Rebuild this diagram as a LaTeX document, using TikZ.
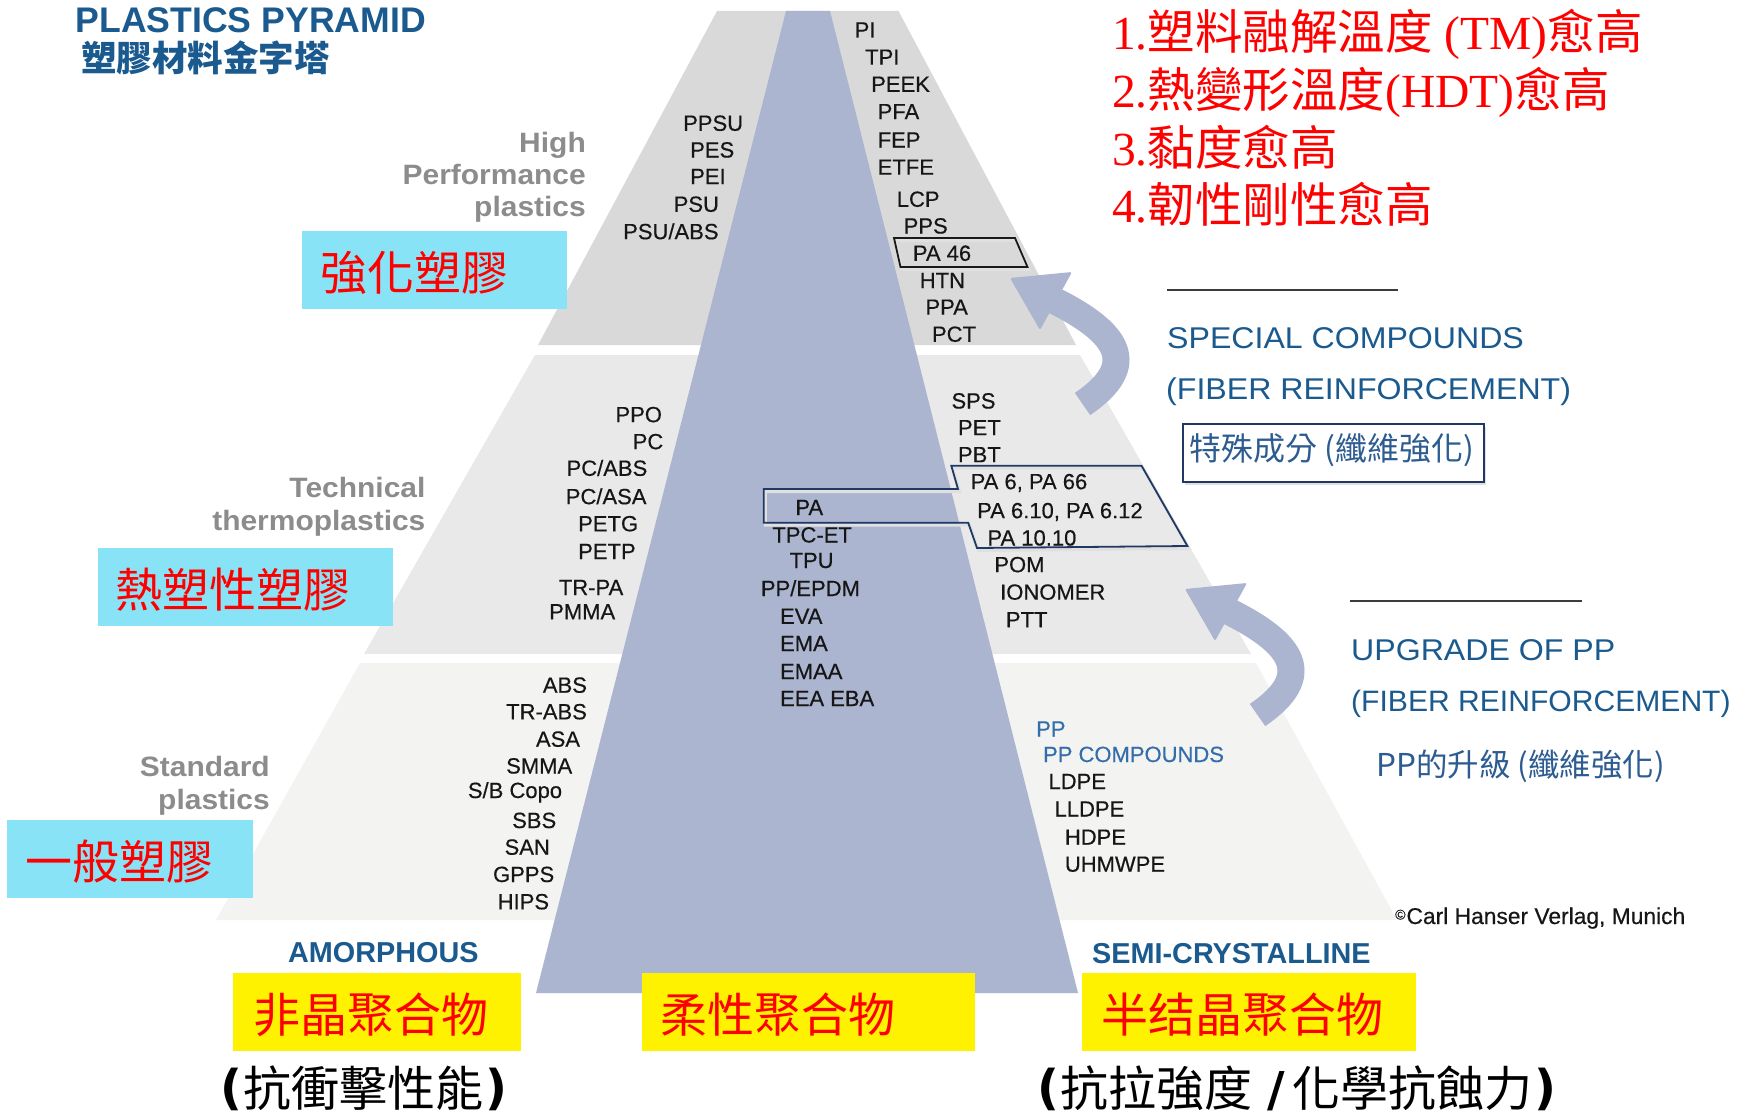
\documentclass[tikz,border=0pt]{standalone}
\usepackage{fontspec}
\setmainfont{Liberation Sans}
\newfontfamily\cjk{Noto Sans CJK TC}
\newfontfamily\serifnum{Liberation Serif}
\newfontfamily\widesans[FakeStretch=1.07]{Liberation Sans}
\newfontfamily\widesansB[FakeStretch=1.02]{Liberation Sans}
\newfontfamily\matsans[FakeBold=0.4]{Liberation Sans}
\newfontfamily\djv{DejaVu Sans}
\definecolor{bandA}{RGB}{217,217,217}
\definecolor{bandB}{RGB}{233,233,233}
\definecolor{bandC}{RGB}{243,243,241}
\definecolor{core}{RGB}{171,181,208}
\definecolor{tblue}{RGB}{26,90,142}
\definecolor{lblue}{RGB}{52,110,170}
\definecolor{cjkblue}{RGB}{45,92,145}
\definecolor{graytxt}{RGB}{140,140,140}
\definecolor{cyanbox}{RGB}{137,227,246}
\definecolor{navy}{RGB}{31,56,100}
\definecolor{mat}{RGB}{22,22,22}
\definecolor{rulegray}{RGB}{60,60,60}
\begin{document}
\begin{tikzpicture}[x=1pt,y=-1pt,
  mat/.style={font=\matsans\fontsize{22}{26}\selectfont, text=mat, inner sep=0, anchor=base west},
  matblue/.style={mat, text=lblue},
  graylbl/.style={font=\widesans\bfseries\fontsize{28}{30}\selectfont, text=graytxt, inner sep=0, anchor=base east},
  bluetxt/.style={font=\widesans\fontsize{30}{32}\selectfont, text=tblue, inner sep=0, anchor=base west},
  classlbl/.style={font=\bfseries\fontsize{28.8}{30}\selectfont, text=tblue, inner sep=0, anchor=base west},
  redlist/.style={font=\cjk\fontsize{47.5}{50}\selectfont, text=red, inner sep=0, anchor=base west},
  redcjk/.style={font=\cjk\fontsize{47}{50}\selectfont, text=red, inner sep=0, anchor=base west},
  blackcjk/.style={font=\cjk\fontsize{48}{50}\selectfont, text=black, inner sep=0, anchor=base west},
  labelbox/.style={inner sep=0, anchor=north west, draw=none},
  shaft/.style={draw=core, line width=27pt},
  rulepen/.style={draw=rulegray, line width=2pt},
  outline/.style={line width=1.8pt, line join=miter}
]
\fill[white] (0,0) rectangle (1738,1116);
\useasboundingbox (0,0) rectangle (1738,1116);

% pyramid bands
\fill[bandA] (717,11) -- (898.5,11) -- (1076,345) -- (538,345) -- cycle;
\fill[bandB] (535,355) -- (1080,355) -- (1251,654) -- (364,654) -- cycle;
\fill[bandC] (360,663) -- (1256,663) -- (1397,920) -- (216,920) -- cycle;
\fill[core] (786,11) -- (830,11) -- (1078,993) -- (536,993) -- cycle;

% arrows
\coordinate (a1s) at (1082.5,404);
\coordinate (a1e) at (1052,299.5);
\draw[shaft] (a1s) .. controls (1140.5,364.5) and (1118.6,332.3) .. (a1e);
\fill[core, rounded corners=2pt] (1010,278) -- (1072,272) -- (1040,330) -- cycle;
\begin{scope}[shift={(175,311)}]
\coordinate (a2s) at (1082.5,404);
\coordinate (a2e) at (1052,299.5);
\draw[shaft] (a2s) .. controls (1140.5,364.5) and (1118.6,332.3) .. (a2e);
\fill[core, rounded corners=2pt] (1010,278) -- (1072,272) -- (1040,330) -- cycle;
\end{scope}

% outlines (PA 46, PA group)
\draw[outline, black!12, line width=3pt, shift={(1.5,2.5)}] (894,238) -- (1015,238) -- (1027.5,267) -- (900.5,267) -- cycle;
\draw[outline, black!90] (894,238) -- (1015,238) -- (1027.5,267) -- (900.5,267) -- cycle;
\draw[outline, black!12, line width=3pt, shift={(1.5,2.5)}] (763.8,489) -- (958,489) -- (951.3,465.7) -- (1141.5,465.7) -- (1187.4,546) -- (977,548) -- (968.2,522.7) -- (763.8,522.7) -- cycle;
\draw[outline, navy] (763.8,489) -- (958,489) -- (951.3,465.7) -- (1141.5,465.7) -- (1187.4,546) -- (977,548) -- (968.2,522.7) -- (763.8,522.7) -- cycle;

% title
\node[inner sep=0, anchor=base west, font=\bfseries\fontsize{35.6}{38}\selectfont, text=tblue] (title) at (75.5,33) {PLASTICS PYRAMID};
\node[inner sep=0, anchor=base west, font=\cjk\bfseries\fontsize{35.5}{38}\selectfont, text=tblue] (titlecn) at (81,71.3) {塑膠材料金字塔};

% red list
\node[redlist] (r1) at (1112,49.5) {{\serifnum 1.}塑料融解溫度{\serifnum\ (TM)}愈高};
\node[redlist] (r2) at (1112,107.5) {{\serifnum 2.}熱變形溫度{\serifnum (HDT)}愈高};
\node[redlist] (r3) at (1112,165.3) {{\serifnum 3.}黏度愈高};
\node[redlist] (r4) at (1112,222.7) {{\serifnum 4.}韌性剛性愈高};

% category labels
\node[graylbl] (hp1) at (586,152) {High};
\node[graylbl] (hp2) at (586,184) {Performance};
\node[graylbl] (hp3) at (586,216) {plastics};
\node[graylbl] (tt1) at (425.6,497) {Technical};
\node[graylbl] (tt2) at (425.6,530) {thermoplastics};
\node[graylbl] (sp1) at (270,776) {Standard};
\node[graylbl] (sp2) at (270,809) {plastics};

% cyan boxes
\node[labelbox, fill=cyanbox, minimum width=265pt, minimum height=78pt] (cb1) at (302,231) {};
\node[redcjk] (cb1t) at (320,290.4) {強化塑膠};
\node[labelbox, fill=cyanbox, minimum width=295pt, minimum height=78pt] (cb2) at (98,548) {};
\node[redcjk] (cb2t) at (115.5,607.9) {熱塑性塑膠};
\node[labelbox, fill=cyanbox, minimum width=246pt, minimum height=78pt] (cb3) at (7,820) {};
\node[redcjk] (cb3t) at (25.5,879.9) {一般塑膠};

% yellow boxes
\node[labelbox, fill=yellow, minimum width=288pt, minimum height=78pt] (yb1) at (233,973) {};
\node[redcjk] (yb1t) at (253.5,1032.9) {非晶聚合物};
\node[labelbox, fill=yellow, minimum width=333pt, minimum height=78pt] (yb2) at (642,973) {};
\node[redcjk] (yb2t) at (660,1032.9) {柔性聚合物};
\node[labelbox, fill=yellow, minimum width=334pt, minimum height=78pt] (yb3) at (1082,973) {};
\node[redcjk] (yb3t) at (1101.5,1032.9) {半结晶聚合物};

% bottom black texts
\node[blackcjk] (bt1) at (220,1106.5) {{\djv\bfseries\raisebox{2pt}{(}}\hspace{1pt}抗衝擊性能\hspace{2pt}{\djv\bfseries\raisebox{2pt}{)}}};
\node[blackcjk] (bt2) at (1037,1106) {{\djv\bfseries\raisebox{2pt}{(}}\hspace{1pt}抗拉強度\hspace{15pt}{\djv\bfseries/}\hspace{8pt}化學抗蝕力\hspace{2pt}{\djv\bfseries\raisebox{2pt}{)}}};

% class labels
\node[classlbl] (amor) at (288,962.7) {AMORPHOUS};
\node[classlbl] (semi) at (1092,963.3) {SEMI-CRYSTALLINE};

% right side texts
\coordinate (l1a) at (1167,290);
\coordinate (l1b) at (1398,290);
\draw[rulepen] (l1a) -- (l1b);
\node[bluetxt] (sc1) at (1167,348.3) {SPECIAL COMPOUNDS};
\node[bluetxt] (sc2) at (1166,399.3) {(FIBER REINFORCEMENT)};
\node[labelbox, fill=black!12, minimum width=301pt, minimum height=57.4pt] (spshadow) at (1184.5,427) {};
\node[labelbox, draw=navy, line width=2pt, fill=white, minimum width=301pt, minimum height=57.4pt] (spbox) at (1181.7,423.3) {};
\node[inner sep=0, anchor=base west, font=\cjk\fontsize{32}{34}\selectfont, text=cjkblue] (sptext) at (1189,460.2) {特殊成分 (纖維強化)};

\coordinate (l2a) at (1350,601);
\coordinate (l2b) at (1582,601);
\draw[rulepen] (l2a) -- (l2b);
\node[bluetxt] (up1) at (1351,660) {UPGRADE OF PP};
\node[bluetxt, font=\widesansB\fontsize{29.5}{32}\selectfont] (up2) at (1351,711) {(FIBER REINFORCEMENT)};
\node[inner sep=0, anchor=base west, font=\cjk\fontsize{31.5}{34}\selectfont, text=cjkblue] (uptext) at (1376,776.8) {PP的升級 (纖維強化)};

\node[inner sep=0, anchor=base west, font=\matsans\fontsize{22.8}{24}\selectfont, text=mat] (copy) at (1395,924) {\raisebox{4.5pt}{\fontsize{14}{14}\selectfont ©}\hspace{1pt}Carl Hanser Verlag, Munich};

% materials: high performance, semi-crystalline side
\node[mat] (pi) at (854.5,37.5) {PI};
\node[mat] (tpi) at (865,64.7) {TPI};
\node[mat] (peek) at (871,91.8) {PEEK};
\node[mat] (pfa) at (877.5,119.2) {PFA};
\node[mat] (fep) at (877.5,147.5) {FEP};
\node[mat] (etfe) at (877.5,174.7) {ETFE};
\node[mat] (lcp) at (896.6,206.8) {LCP};
\node[mat] (pps) at (903.5,233.5) {PPS};
\node[mat] (pa46) at (912.7,260.8) {PA 46};
\node[mat] (htn) at (919.6,288) {HTN};
\node[mat] (ppa) at (925.3,314.7) {PPA};
\node[mat] (pct) at (931.8,341.8) {PCT};
% high performance, amorphous side
\node[mat] (ppsu) at (683,130.8) {PPSU};
\node[mat] (pes) at (690,157.5) {PES};
\node[mat] (pei) at (690,184) {PEI};
\node[mat] (psu) at (673.5,211.8) {PSU};
\node[mat] (psuabs) at (623,239.2) {PSU/ABS};
% technical, amorphous
\node[mat] (ppo) at (615.3,422.2) {PPO};
\node[mat] (pc) at (632.5,449.2) {PC};
\node[mat] (pcabs) at (566.4,475.8) {PC/ABS};
\node[mat] (pcasa) at (565.6,504.2) {PC/ASA};
\node[mat] (petg) at (578,531.3) {PETG};
\node[mat] (petp) at (578,559) {PETP};
\node[mat] (trpa) at (558.7,595) {TR-PA};
\node[mat] (pmma) at (549,619.3) {PMMA};
% core
\node[mat] (pa) at (795.2,515) {PA};
\node[mat] (tpcet) at (772.2,542.5) {TPC-ET};
\node[mat] (tpu) at (789.4,568) {TPU};
\node[mat] (ppepdm) at (760.7,596) {PP/EPDM};
\node[mat] (eva) at (779.9,623.8) {EVA};
\node[mat] (ema) at (779.9,651) {EMA};
\node[mat] (emaa) at (779.9,679) {EMAA};
\node[mat] (eeaeba) at (779.9,706) {EEA EBA};
% technical, semi-crystalline
\node[mat] (sps) at (951.3,408.5) {SPS};
\node[mat] (pet) at (957.8,435.2) {PET};
\node[mat] (pbt) at (957.8,462.2) {PBT};
\node[mat] (pa6) at (970.5,489.2) {PA 6, PA 66};
\node[mat] (pa610) at (977,518.2) {PA 6.10, PA 6.12};
\node[mat] (pa1010) at (987.3,545.5) {PA 10.10};
\node[mat] (pom) at (994.2,572.2) {POM};
\node[mat] (iono) at (1000,599.7) {IONOMER};
\node[mat] (ptt) at (1005.7,627.2) {PTT};
% standard, amorphous
\node[mat] (abs) at (542.7,692.7) {ABS};
\node[mat] (trabs) at (506,719.3) {TR-ABS};
\node[mat] (asa) at (535.8,746.7) {ASA};
\node[mat] (smma) at (506,773.5) {SMMA};
\node[mat] (sbcopo) at (467.7,798) {S/B Copo};
\node[mat] (sbs) at (512,828) {SBS};
\node[mat] (san) at (504.4,854.7) {SAN};
\node[mat] (gpps) at (492.9,882) {GPPS};
\node[mat] (hips) at (497.5,909.3) {HIPS};
% standard, semi-crystalline
\node[matblue] (pp) at (1036,736.5) {PP};
\node[matblue] (ppcomp) at (1042.9,762) {PP COMPOUNDS};
\node[mat] (ldpe) at (1048.3,789) {LDPE};
\node[mat] (lldpe) at (1054.4,816.5) {LLDPE};
\node[mat] (hdpe) at (1064.7,844.7) {HDPE};
\node[mat] (uhmwpe) at (1064.7,871.7) {UHMWPE};
\end{tikzpicture}
\end{document}
